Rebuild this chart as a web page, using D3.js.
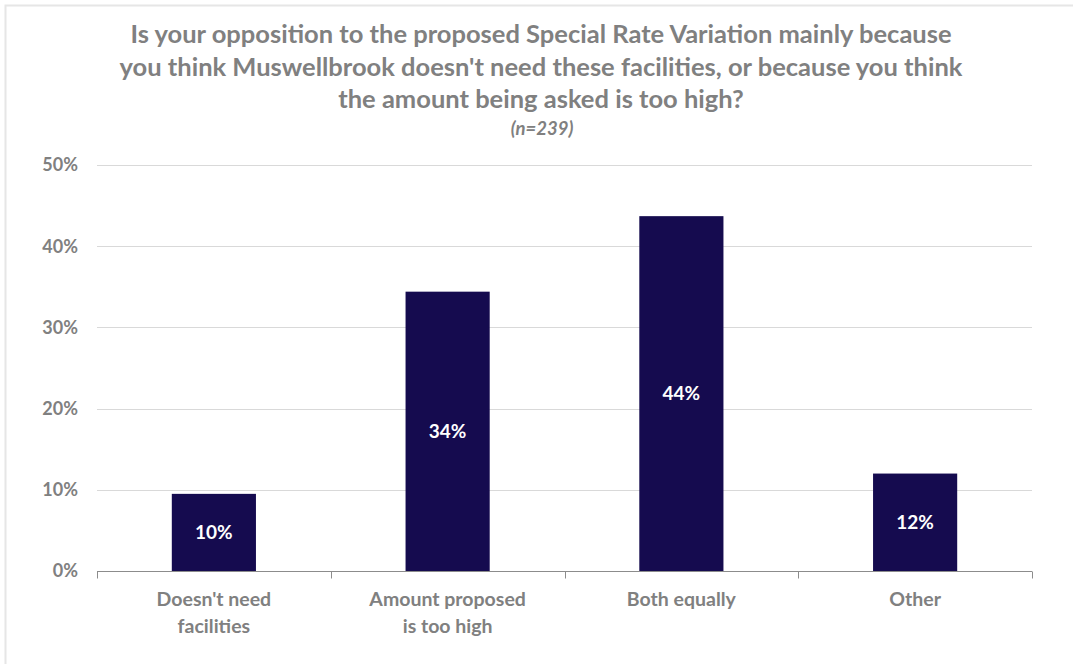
<!DOCTYPE html>
<html>
<head>
<meta charset="utf-8">
<script src="https://cdn.jsdelivr.net/npm/d3@7"></script>
<style>
  body { margin: 0; background: #fff; }
  svg { display: block; font-family: Lato, "Open Sans", sans-serif; }
</style>
</head>
<body>
<svg width="1073" height="664"></svg>
<script>
var categories = [["Doesn't need", "facilities"], ["Amount proposed", "is too high"], ["Both equally"], ["Other"]];
var values = [9.5, 34.4, 43.7, 12.0];
var valueLabels = ["10%", "34%", "44%", "12%"];
var yTicks = [0, 10, 20, 30, 40, 50];
var titleLines = [
  "Is your opposition to the proposed Special Rate Variation mainly because",
  "you think Muswellbrook doesn't need these facilities, or because you think",
  "the amount being asked is too high?"
];
var subtitle = "(n=239)";

var margin = { top: 165, right: 41, bottom: 93, left: 97 };
var width = 1073 - margin.left - margin.right;
var height = 664 - margin.top - margin.bottom;

var svg = d3.select("svg");

// frame
svg.append("path")
  .attr("d", "M5.5,664 V5.5 H1073")
  .attr("fill", "none")
  .attr("stroke", "#e6e6e6")
  .attr("stroke-width", 2);

var title = svg.append("text")
  .attr("text-anchor", "middle")
  .attr("fill", "#808080")
  .attr("font-weight", "bold")
  .attr("font-size", 25.5);

title.selectAll("tspan")
  .data(titleLines)
  .enter()
  .append("tspan")
  .attr("x", 541)
  .attr("y", function (d, i) { return 43 + i * 32.5; })
  .text(function (d) { return d; });

svg.append("text")
  .attr("x", 542)
  .attr("y", 135)
  .attr("text-anchor", "middle")
  .attr("fill", "#808080")
  .attr("font-style", "italic")
  .attr("font-weight", "bold")
  .attr("font-size", 18.5)
  .text(subtitle);

var g = svg.append("g")
  .attr("transform", "translate(" + margin.left + "," + margin.top + ")");

var x = d3.scaleBand()
  .domain(d3.range(categories.length))
  .range([0, width])
  .padding(0);

var y = d3.scaleLinear()
  .domain([0, 50])
  .range([height, 0]);

// gridlines
g.selectAll("line.grid")
  .data(yTicks.filter(function (d) { return d > 0; }))
  .enter()
  .append("line")
  .attr("class", "grid")
  .attr("x1", 0)
  .attr("x2", width)
  .attr("y1", function (d) { return Math.round(y(d)) + 0.5; })
  .attr("y2", function (d) { return Math.round(y(d)) + 0.5; })
  .attr("stroke", "#d9d9d9")
  .attr("stroke-width", 1);

// y labels
g.selectAll("text.ylab")
  .data(yTicks)
  .enter()
  .append("text")
  .attr("class", "ylab")
  .attr("x", -19)
  .attr("y", function (d) { return y(d); })
  .attr("dy", "0.35em")
  .attr("text-anchor", "end")
  .attr("fill", "#808080")
  .attr("font-weight", "bold")
  .attr("font-size", 18)
  .text(function (d) { return d + "%"; });

var barW = x.bandwidth() * 0.36;

g.selectAll("rect.bar")
  .data(values)
  .enter()
  .append("rect")
  .attr("class", "bar")
  .attr("x", function (d, i) { return x(i) + (x.bandwidth() - barW) / 2; })
  .attr("y", function (d) { return y(d); })
  .attr("width", barW)
  .attr("height", function (d) { return height - y(d); })
  .attr("fill", "#150b4f");

g.selectAll("text.val")
  .data(values)
  .enter()
  .append("text")
  .attr("class", "val")
  .attr("x", function (d, i) { return x(i) + x.bandwidth() / 2; })
  .attr("y", function (d) { return (y(d) + height) / 2; })
  .attr("dy", "0.35em")
  .attr("text-anchor", "middle")
  .attr("fill", "#ffffff")
  .attr("font-weight", "bold")
  .attr("font-size", 19)
  .text(function (d, i) { return valueLabels[i]; });

// x axis
var xAxis = g.append("g")
  .attr("transform", "translate(0," + (Math.round(height) + 0.5) + ")");

xAxis.append("line")
  .attr("x1", 0)
  .attr("x2", width)
  .attr("stroke", "#8c8c8c")
  .attr("stroke-width", 1);

xAxis.selectAll("line.tick")
  .data(d3.range(categories.length + 1))
  .enter()
  .append("line")
  .attr("class", "tick")
  .attr("x1", function (d) { return Math.round(d * x.step()) + 0.5; })
  .attr("x2", function (d) { return Math.round(d * x.step()) + 0.5; })
  .attr("y1", 0)
  .attr("y2", 7)
  .attr("stroke", "#8c8c8c")
  .attr("stroke-width", 1);

var xl = xAxis.selectAll("text.xlab")
  .data(categories)
  .enter()
  .append("text")
  .attr("class", "xlab")
  .attr("text-anchor", "middle")
  .attr("fill", "#808080")
  .attr("font-weight", "bold")
  .attr("font-size", 19.5);

xl.selectAll("tspan")
  .data(function (d, i) { return d.map(function (s) { return { s: s, i: i }; }); })
  .enter()
  .append("tspan")
  .attr("x", function (d) { return x(d.i) + x.bandwidth() / 2; })
  .attr("y", function (d, j) { return 34 + j * 27; })
  .text(function (d) { return d.s; });
</script>
</body>
</html>
